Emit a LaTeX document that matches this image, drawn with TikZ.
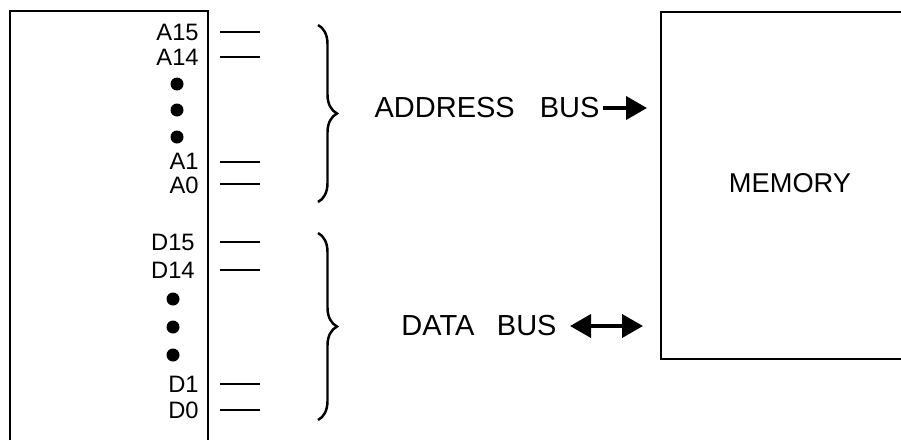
\documentclass[tikz,border=0pt]{standalone}
\usepackage{fontspec}
\setmainfont{Liberation Sans}
\usetikzlibrary{arrows.meta,decorations.pathreplacing}

\begin{document}
\begin{tikzpicture}[
    x=0.02cm,
    y=-0.02cm,
    pin/.style={
        anchor=east,
        inner sep=0pt,
        font=\fontsize{13.5}{15}\selectfont,
    },
    dot/.style={
        circle,
        fill=black,
        minimum size=0.26cm,
        inner sep=0pt,
    },
    wire/.style={
        line width=1.4pt,
        draw=black
    },
    frame/.style={
        line width=1.3pt,
        draw=black
    },
    bracket/.style={
        line width=1.4pt,
        decorate,
        decoration={brace, amplitude=0.38cm}
    },
    buslabel/.style={
        inner sep=0pt,
        font=\fontsize{16.5}{18}\selectfont,
    },
    bus/.style={
        line width=2.2pt,
        {Triangle[length=0.42cm,width=0.46cm]}-{Triangle[length=0.42cm,width=0.46cm]}
    },
    busout/.style={
        line width=2.2pt,
        -{Triangle[length=0.42cm,width=0.46cm]}
    }
]

    \useasboundingbox (0,0) rectangle (901,440);

    \draw[frame] (10,440) -- (10,11) -- (208,11) -- (208,440);
    \draw[frame] (901,12) -- (661,12) -- (661,359) -- (901,359);

    \node[pin] (a15) at (199,32) {A15};
    \node[pin] (a14) at (199,57) {A14};
    \node[dot] (adot1) at (177,84) {};
    \node[dot] (adot2) at (177,110) {};
    \node[dot] (adot3) at (177,137) {};
    \node[pin] (a1) at (199,161) {A1};
    \node[pin] (a0) at (199,185) {A0};

    \node[pin] (d15) at (195,242) {D15};
    \node[pin] (d14) at (195,270) {D14};
    \node[dot] (ddot1) at (173,299) {};
    \node[dot] (ddot2) at (173,327) {};
    \node[dot] (ddot3) at (173,355) {};
    \node[pin] (d1) at (199,384) {D1};
    \node[pin] (d0) at (199,410) {D0};

    \foreach \name/\y in {a15/32, a14/57, a1/162, a0/184, d15/242, d14/270, d1/384, d0/410} {
        \coordinate (\name l) at (220,\y);
        \coordinate (\name r) at (260,\y);
        \draw[wire] (\name l) -- (\name r);
    }

    \coordinate (atop) at (318,25);
    \coordinate (abot) at (318,202);
    \coordinate (dtop) at (318,233);
    \coordinate (dbot) at (318,420);
    \draw[bracket] (atop) -- (abot);
    \draw[bracket] (dtop) -- (dbot);

    \node[buslabel] (addr) at (487,108) {ADDRESS\hspace{0.5cm}BUS};
    \node[buslabel] (data) at (479,326) {DATA\hspace{0.45cm}BUS};

    \node[font=\fontsize{15.5}{17}\selectfont] (mem) at (790,183) {MEMORY};

    \coordinate (addrend) at (647,108);
    \coordinate (datastart) at (570,326);
    \coordinate (dataend) at (643,326);

    \draw[busout] (addr.east) ++(3,0) -- (addrend);
    \draw[bus] (datastart) -- (dataend);
\end{tikzpicture}
\end{document}
